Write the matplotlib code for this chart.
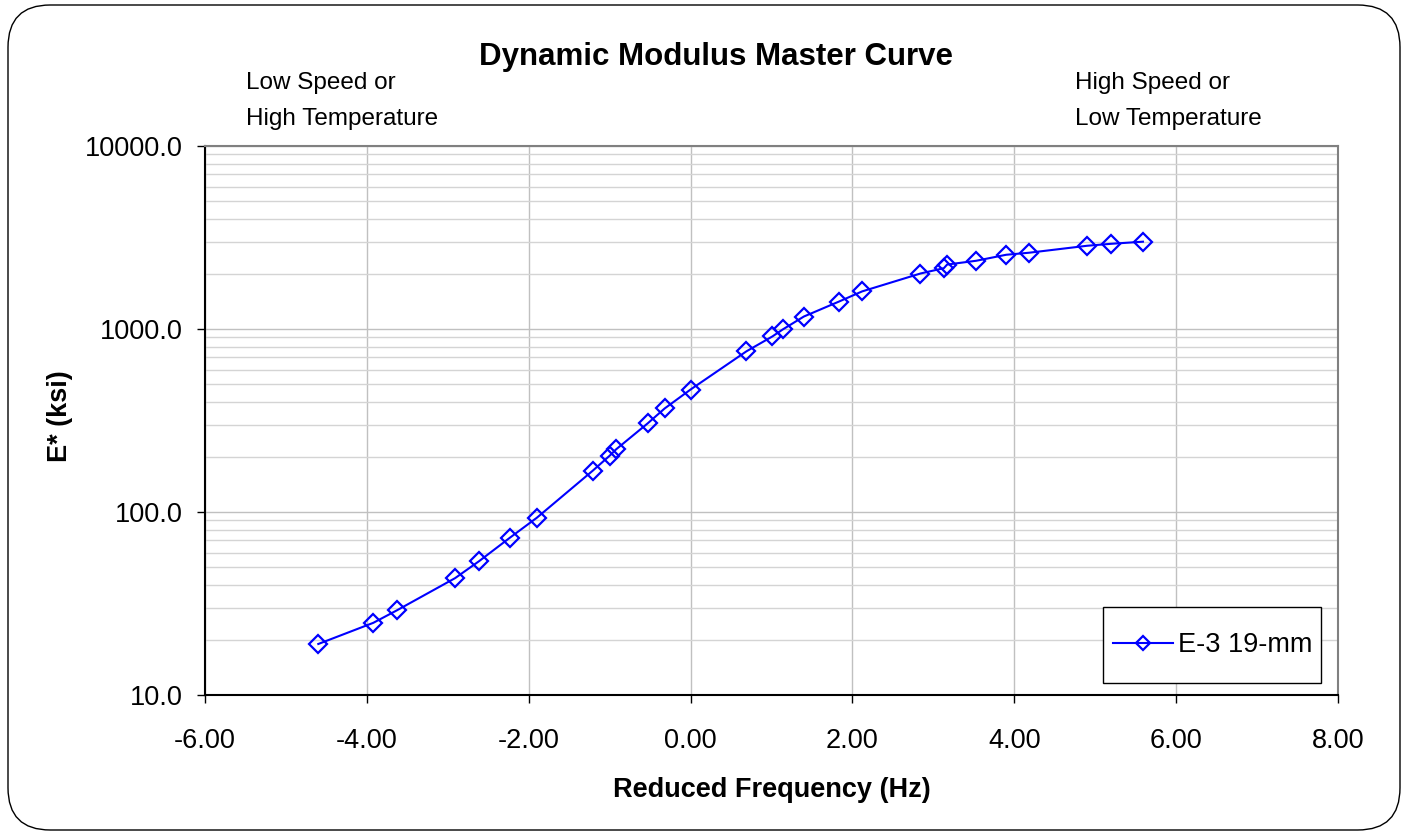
import matplotlib
matplotlib.use('Agg')
import matplotlib.pyplot as plt
from matplotlib.patches import FancyBboxPatch, Rectangle
from matplotlib.ticker import FixedLocator, LogLocator, NullFormatter, FuncFormatter

plt.rcParams['font.family'] = ['Liberation Sans', 'DejaVu Sans']

# reduced frequency (log) vs dynamic modulus
freq = [-4.60, -3.92, -3.63, -2.91, -2.61, -2.23, -1.90, -1.21, -1.00, -0.92,
        -0.53, -0.32, 0.00, 0.69, 1.01, 1.14, 1.40, 1.83, 2.12, 2.84,
        3.13, 3.17, 3.53, 3.90, 4.18, 4.90, 5.19, 5.59]
modulus = [19.0, 24.8, 29.0, 43.5, 54.0, 72.5, 93.0, 168, 203, 220,
           305, 368, 467, 755, 910, 995, 1170, 1410, 1605, 2010,
           2150, 2250, 2360, 2545, 2610, 2850, 2920, 3000]
series_name = 'E-3 19-mm'

W, H = 1408, 835
fig = plt.figure(figsize=(W / 100, H / 100), dpi=100)
border = FancyBboxPatch((8 / W, 5 / H), 1392 / W, 825 / H,
                        boxstyle='round,pad=0,rounding_size=0.03',
                        transform=fig.transFigure, fill=False,
                        edgecolor='black', linewidth=1.0,
                        mutation_aspect=W / H)
fig.patches.append(border)

ax = fig.add_axes([205 / W, 140 / H, 1133 / W, 549 / H])
ax.plot(freq, modulus, color='#0000ff', linewidth=1.5, marker='D',
        markersize=9.5, markerfacecolor='none', markeredgecolor='#0000ff',
        markeredgewidth=1.6, label=series_name)

ax.set_yscale('log')
ax.set_xlim(-6, 8)
ax.set_ylim(10, 10000)
ax.xaxis.set_major_locator(FixedLocator([-6, -4, -2, 0, 2, 4, 6, 8]))
ax.xaxis.set_major_formatter(FuncFormatter(lambda v, p: '%.2f' % v))
ax.yaxis.set_major_locator(FixedLocator([10, 100, 1000, 10000]))
ax.yaxis.set_major_formatter(FuncFormatter(lambda v, p: '%.1f' % v))
ax.yaxis.set_minor_locator(LogLocator(base=10, subs=range(2, 10)))
ax.yaxis.set_minor_formatter(NullFormatter())
ax.tick_params(axis='y', which='minor', length=0)
ax.tick_params(axis='both', which='major', direction='out', length=6,
               width=1, labelsize=19.5, colors='black')
ax.tick_params(axis='y', which='major', pad=10)
ax.tick_params(axis='x', which='major', pad=18)

ax.grid(True, which='major', axis='both', color='#c0c0c0', linewidth=1)
ax.grid(True, which='minor', axis='y', color='#d4d4d4', linewidth=1)
ax.set_axisbelow(True)

ax.spines['left'].set_color('black')
ax.spines['bottom'].set_color('black')
ax.spines['top'].set_color('#808080')
ax.spines['right'].set_color('#808080')
for s in ax.spines.values():
    s.set_linewidth(1.5)

ax.set_xlabel('Reduced Frequency (Hz)', fontsize=19.5, fontweight='bold')
ax.set_ylabel('E* (ksi)', fontsize=19.5, fontweight='bold')
ax.xaxis.set_label_coords(0.5, (695 - 777) / 549)
ax.yaxis.set_label_coords((73 - 205) / 1133, (695 - 416) / 549)

fig.text(716 / W, 1 - 57 / H, 'Dynamic Modulus Master Curve', ha='center',
         va='center', fontsize=22.5, fontweight='bold')
fig.text(246 / W, 1 - 83 / H, 'Low Speed or', ha='left', va='center', fontsize=17.5)
fig.text(246 / W, 1 - 119 / H, 'High Temperature', ha='left', va='center', fontsize=17.5)
fig.text(1075 / W, 1 - 83 / H, 'High Speed or', ha='left', va='center', fontsize=17.5)
fig.text(1075 / W, 1 - 119 / H, 'Low Temperature', ha='left', va='center', fontsize=17.5)

# legend box drawn separately so it can be taller than the entry
box = Rectangle((1103 / W, (H - 683) / H), 218 / W, 76 / H,
                transform=fig.transFigure, facecolor='white',
                edgecolor='black', linewidth=1.0, zorder=4, clip_on=False)
ax.add_patch(box)
leg = ax.legend(loc='center', bbox_to_anchor=(1213 / W, (H - 645) / H),
                bbox_transform=fig.transFigure, fontsize=19.5, frameon=False,
                borderpad=0, borderaxespad=0, handlelength=2.2,
                handletextpad=0.2, markerscale=0.8)
leg.set_zorder(5)

fig.savefig('out.png', dpi=100)
